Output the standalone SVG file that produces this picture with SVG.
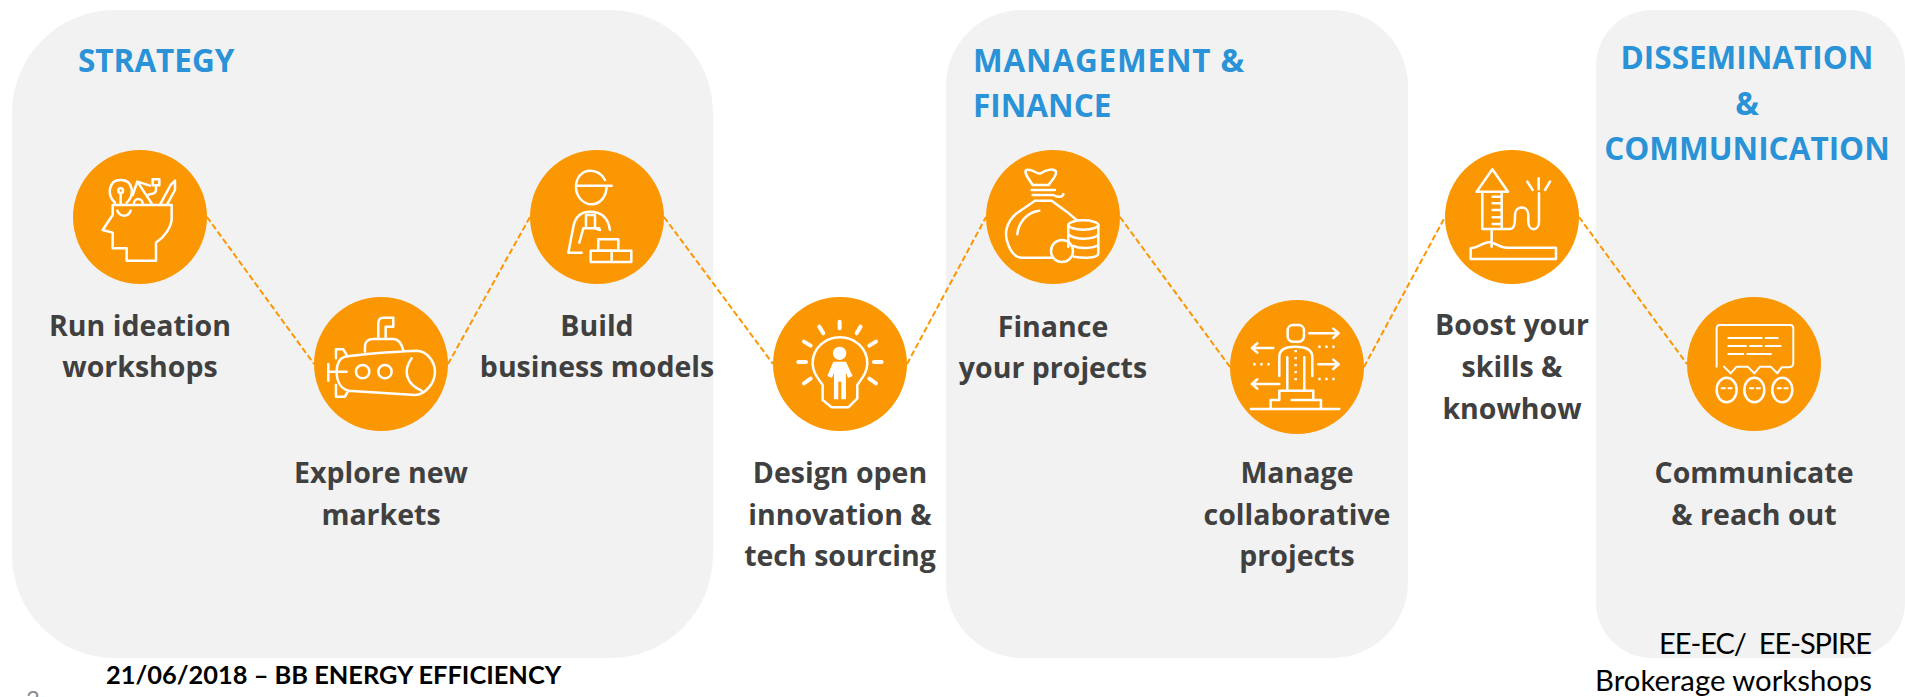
<svg xmlns="http://www.w3.org/2000/svg" width="1905" height="697" viewBox="0 0 1905 697">
<style>
.panel{fill:#f2f2f2}
.h{font-family:"Open Sans","Liberation Sans",sans-serif;font-weight:700;font-size:31.5px;fill:#2a92d6}
.l{font-family:"Open Sans","Liberation Sans",sans-serif;font-weight:700;font-size:28.5px;fill:#404040;text-anchor:middle}
.c{fill:#fb9702}
.i{fill:none;stroke:#fff;stroke-width:7.5;stroke-linecap:round;stroke-linejoin:round}
.w{fill:#fff;stroke:none}
.conn{stroke:#fb9702;stroke-width:2;stroke-dasharray:6 3;fill:none}
.f{font-family:Lato,"Liberation Sans",sans-serif;fill:#000;white-space:pre}
</style>
<rect width="1905" height="697" fill="#fff"/>
<g id="panel-strategy"><rect class="panel" x="12" y="10" width="701" height="648" rx="103"/><text class="h" x="78" y="72">STRATEGY</text></g>
<g id="panel-management"><rect class="panel" x="946" y="10" width="462" height="648" rx="76"/><text class="h" x="973" y="72" textLength="271">MANAGEMENT &amp;</text><text class="h" x="973" y="117">FINANCE</text></g>
<g id="panel-dissemination"><rect class="panel" x="1596" y="10" width="309" height="648" rx="56"/><text class="h" x="1747" y="69" text-anchor="middle">DISSEMINATION</text><text class="h" x="1747" y="115" text-anchor="middle">&amp;</text><text class="h" x="1747" y="160" text-anchor="middle">COMMUNICATION</text></g>
<g id="connectors">
<path class="conn" d="M207 217L314 364"/><path class="conn" d="M448 364L530 217"/><path class="conn" d="M664 217L773 364"/><path class="conn" d="M907 364L986 217"/><path class="conn" d="M1120 217L1230 367"/><path class="conn" d="M1364 367L1445 217"/><path class="conn" d="M1579 217L1687 364"/>
</g>
<g id="node-ideation"><circle class="c" cx="140" cy="217" r="67"/>
<g transform="translate(50 140) scale(.3333)"><path class="i" d="M188 195H365V235C365 260 345 290 318 308V362H230V325H188V278L158 270L188 225ZM202 212C210 232 235 232 242 212M195 188C170 165 175 120 212 120C250 120 255 165 230 188M212 160V190M262 125L305 190M262 125L300 137M262 125L248 165M332 190L362 135L375 122V150L352 192M252 190A13 13 0 0 1 278 190M318 136V150C318 165 300 160 295 165"/><circle class="i" cx="212" cy="152" r="7"/><rect class="i" x="308" y="118" width="20" height="18"/></g>
<text class="l" x="140" y="336">Run ideation</text><text class="l" x="140" y="377">workshops</text></g>
<g id="node-markets"><circle class="c" cx="381" cy="364" r="67"/>
<g transform="translate(50 140) scale(.3333)"><path class="i" d="M885 650C950 640 1010 636 1100 632C1130 632 1155 665 1155 695C1155 730 1125 765 1095 765L895 752C870 745 860 720 860 695C860 670 870 655 885 650ZM1085 655C1060 690 1065 730 1115 752M945 635V620C945 605 955 597 970 597H1030C1045 597 1055 610 1060 632M985 597V550C985 540 990 533 1000 533H1030V560H1007V597M835 672V722M835 695H890M858 655V628H880L893 650M858 735V770H885L895 752"/><circle class="i" cx="938" cy="695" r="20"/><circle class="i" cx="1005" cy="695" r="20"/></g>
<text class="l" x="381" y="483">Explore new</text><text class="l" x="381" y="525">markets</text></g>
<g id="node-business"><circle class="c" cx="597" cy="217" r="67"/>
<g transform="translate(500 140) scale(.3333)"><path class="i" d="M315 120C305 100 290 92 270 92C245 92 228 115 228 140C228 170 250 193 275 193C300 193 320 170 320 137M228 137H335M330 270C325 235 305 215 270 215C240 215 225 235 220 260L205 338H245M238 308L250 265H298M258 225V262M285 225V265L300 270M258 225H285M335 336V364"/><rect class="i" x="272" y="332" width="122" height="34"/><rect class="i" x="295" y="298" width="60" height="34"/></g>
<text class="l" x="597" y="336">Build</text><text class="l" x="597" y="377">business models</text></g>
<g id="node-design"><circle class="c" cx="840" cy="364" r="67"/>
<g transform="translate(500 140) scale(.3333)"><path class="i" d="M968 735C950 710 938 695 938 670C938 625 975 592 1020 592C1065 592 1102 625 1102 670C1102 695 1090 710 1072 735V775L1045 802H995L968 780Z"/><circle class="w" cx="1019" cy="640" r="20"/><path class="w" d="M1000 665H1038L1058 708L1044 714L1038 698V778H1024V725H1015V778H1002V698L996 714L982 708Z"/><path class="i" style="stroke-width:12" d="M1019 545V565M958 560L970 580M1082 560L1070 580M912 605L932 617M1128 605L1108 617M895 666H918M1122 666H1145M912 730L932 716M1128 730L1108 716"/></g>
<text class="l" x="840" y="483">Design open</text><text class="l" x="840" y="525">innovation &amp;</text><text class="l" x="840" y="566">tech sourcing</text></g>
<g id="node-finance"><circle class="c" cx="1053" cy="217" r="67"/>
<g transform="translate(960 140) scale(.3333)"><path class="i" d="M218 135C205 115 192 100 198 90C220 85 230 105 242 100C255 92 280 82 288 95C290 110 275 120 266 135ZM215 150H285M218 165H280C295 175 310 170 310 162M225 182H275L320 215L350 240M225 182L170 220C140 245 130 280 145 315C155 340 170 353 185 353H275M172 283C175 245 205 215 238 212M325 255V320M415 255V340C415 355 370 355 342 350M328 285C345 300 400 300 415 285M340 318C360 328 400 325 415 315"/><ellipse class="i" cx="370" cy="255" rx="45" ry="14"/><circle class="i" cx="306" cy="333" r="33"/></g>
<text class="l" x="1053" y="337">Finance</text><text class="l" x="1053" y="378">your projects</text></g>
<g id="node-manage"><circle class="c" cx="1297" cy="367" r="67"/>
<g transform="translate(960 140) scale(.3333)"><rect class="i" x="983" y="555" width="49" height="50" rx="16"/><path class="i" d="M958 708V650C958 630 975 620 1005 620C1040 620 1057 630 1057 650V708M982 652V750M1033 652V750M932 805V780H958V752H1060V780H1083V805M995 780H1060M873 807H1138M1048 580H1135M1120 566L1136 580L1120 594M940 624H878M892 610L876 624L892 638M1075 673H1135M1120 659L1136 673L1120 687M958 732H878M892 718L876 732L892 746"/><path class="i" stroke-dasharray="7 14" style="stroke-linecap:butt" d="M1075 620H1136M880 673H941M1075 717H1136M1007 630V735"/></g>
<text class="l" x="1297" y="483">Manage</text><text class="l" x="1297" y="525">collaborative</text><text class="l" x="1297" y="566">projects</text></g>
<g id="node-boost"><circle class="c" cx="1512" cy="217" r="67"/>
<g transform="translate(1420 140) scale(.3333)"><path class="i" d="M170 155L217 88L264 155ZM187 155V267H245V155M218 170H243M218 190H243M218 210H243M218 232H243M218 252H243M215 267V320M152 325V357H408V323H262C235 323 225 305 205 307C185 310 170 325 152 325ZM245 267H270C285 267 285 245 285 225C285 195 325 195 325 225V245C325 275 357 275 357 245V160M356 115V148M322 125L338 150M390 125L375 150"/></g>
<text class="l" x="1512" y="335">Boost your</text><text class="l" x="1512" y="377">skills &amp;</text><text class="l" x="1512" y="419">knowhow</text></g>
<g id="node-communicate"><circle class="c" cx="1754" cy="364" r="67"/>
<g transform="translate(1420 140) scale(.3333)"><path class="i" style="stroke-width:6" d="M890 680V565Q890 555 900 555H1110Q1120 555 1120 565V670Q1120 682 1105 682H1085L1072 700L1052 680H1020L1003 700L983 680H950L932 700L912 680M925 594H1025M1037 594H1073M925 618H978M990 618H1025M1037 618H1082M925 642H970M982 642H1053M905 745H915M925 745H935M990 745H1000M1010 745H1020M1073 745H1083M1093 745H1103"/><ellipse class="i" cx="920" cy="750" rx="30" ry="37"/><ellipse class="i" cx="1003" cy="750" rx="30" ry="37"/><ellipse class="i" cx="1087" cy="750" rx="30" ry="37"/></g>
<text class="l" x="1754" y="483">Communicate</text><text class="l" x="1754" y="525">&amp; reach out</text></g>
<g id="footer">
<text class="f" x="106" y="684" font-weight="700" font-size="25.4">21/06/2018 – BB ENERGY EFFICIENCY</text>
<text x="26" y="708" font-family="Lato,'Liberation Sans',sans-serif" font-size="24" fill="#8c8c8c">3</text>
<text class="f" x="1659" y="654" font-size="29" textLength="213">EE-EC/  EE-SPIRE</text>
<text class="f" x="1872" y="691" font-size="29.3" text-anchor="end">Brokerage workshops</text>
</g>
</svg>
